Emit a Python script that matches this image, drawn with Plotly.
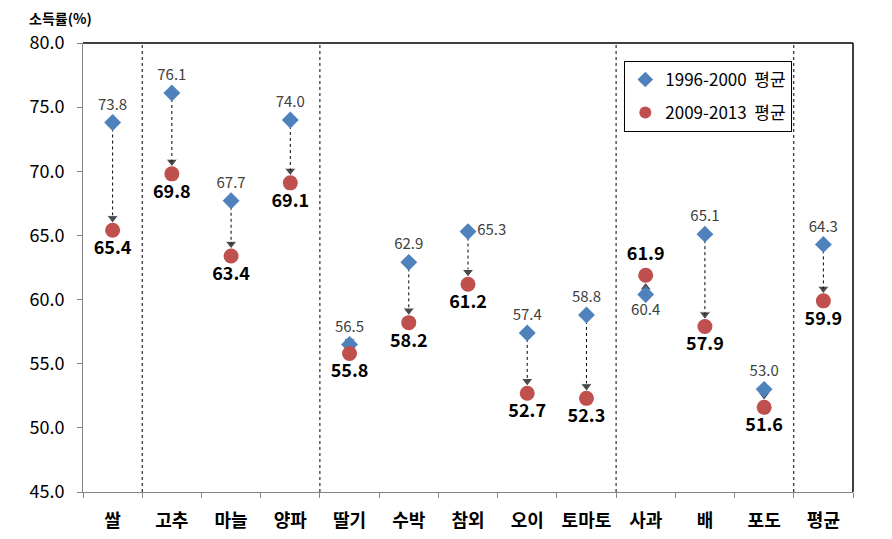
import plotly.graph_objects as go

crops = ["쌀", "고추", "마늘", "양파", "딸기", "수박", "참외", "오이", "토마토", "사과", "배", "포도", "평균"]
avg_9600 = [73.8, 76.1, 67.7, 74.0, 56.5, 62.9, 65.3, 57.4, 58.8, 60.4, 65.1, 53.0, 64.3]
avg_0913 = [65.4, 69.8, 63.4, 69.1, 55.8, 58.2, 61.2, 52.7, 52.3, 61.9, 57.9, 51.6, 59.9]
y_ticks = [45, 50, 55, 60, 65, 70, 75, 80]
separators = [0.5, 3.5, 8.5, 11.5]

FONT = "Noto Sans CJK KR"

# label positions (사과 is reversed, 참외 label to the right)
pos_9600 = ["top center"] * len(crops)
pos_9600[6] = "middle right"
pos_9600[9] = "bottom center"
pos_0913 = ["bottom center"] * len(crops)
pos_0913[9] = "top center"

fig = go.Figure()

# dotted arrows from old to new value
for c, a, b in zip(crops, avg_9600, avg_0913):
    down = b < a
    tip = b + 0.95 if down else b - 0.95
    fig.add_trace(go.Scatter(
        x=[c, c], y=[a, tip], mode="lines+markers",
        line=dict(color="black", width=1, dash="dot"),
        marker=dict(symbol="triangle-down" if down else "triangle-up",
                    size=[0, 10], color="black"),
        showlegend=False, hoverinfo="skip"))

fig.add_trace(go.Scatter(
    x=crops, y=avg_9600, mode="markers+text", name="1996-2000  평균",
    legendgroup="a",
    marker=dict(symbol="diamond", size=13, color="#4F81BD"),
    text=[f"{v:.1f}" for v in avg_9600], textposition=pos_9600,
    textfont=dict(family=FONT, size=15, color="#404040")))

fig.add_trace(go.Scatter(
    x=crops, y=avg_0913, mode="markers+text", name="2009-2013  평균",
    legendgroup="b",
    marker=dict(symbol="circle", size=15, color="#C0504D"),
    text=[f"{v:.1f}" for v in avg_0913], textposition=pos_0913,
    textfont=dict(family=FONT, size=18, color="black", weight="bold")))

for s in separators:
    fig.add_shape(type="line", xref="x", yref="paper", x0=s, x1=s, y0=0, y1=1,
                  line=dict(color="black", width=1, dash="dot"))
# top and right borders
fig.add_shape(type="line", xref="paper", yref="paper", x0=0, x1=1, y0=1, y1=1,
              line=dict(color="black", width=1.5))
fig.add_shape(type="line", xref="paper", yref="paper", x0=1, x1=1, y0=0, y1=1,
              line=dict(color="black", width=1.5))

fig.add_annotation(text="소득률(%)", xref="paper", yref="paper", x=-0.073, y=1.055,
                   xanchor="left", yanchor="middle", showarrow=False,
                   font=dict(family=FONT, size=14, color="black", weight="bold"))

fig.update_layout(
    width=892, height=539,
    margin=dict(l=75, r=47, t=35, b=55),
    plot_bgcolor="white", paper_bgcolor="white",
    font=dict(family=FONT, color="black"),
    legend=dict(x=0.703, y=0.96, xanchor="left", yanchor="top",
                bordercolor="black", borderwidth=1, bgcolor="white",
                tracegroupgap=8,
                font=dict(family=FONT, size=17), itemsizing="constant"),
    xaxis=dict(type="category", categoryorder="array", categoryarray=crops,
               range=[-0.5, len(crops) - 0.5], showline=True, linecolor="#868686",
               linewidth=1, ticks="outside", tickson="boundaries", ticklen=5,
               tickcolor="#868686", showgrid=False, ticklabelstandoff=12,
               tickfont=dict(family=FONT, size=18, color="black", weight="bold")),
    yaxis=dict(range=[45, 80], tickvals=y_ticks, tickformat=".1f", showline=True,
               linecolor="#868686", linewidth=1, ticks="outside", ticklen=5,
               tickcolor="#868686", showgrid=False, zeroline=False,
               ticklabelstandoff=9,
               tickfont=dict(family=FONT, size=18, color="black")),
)

fig.write_html("out.html")
